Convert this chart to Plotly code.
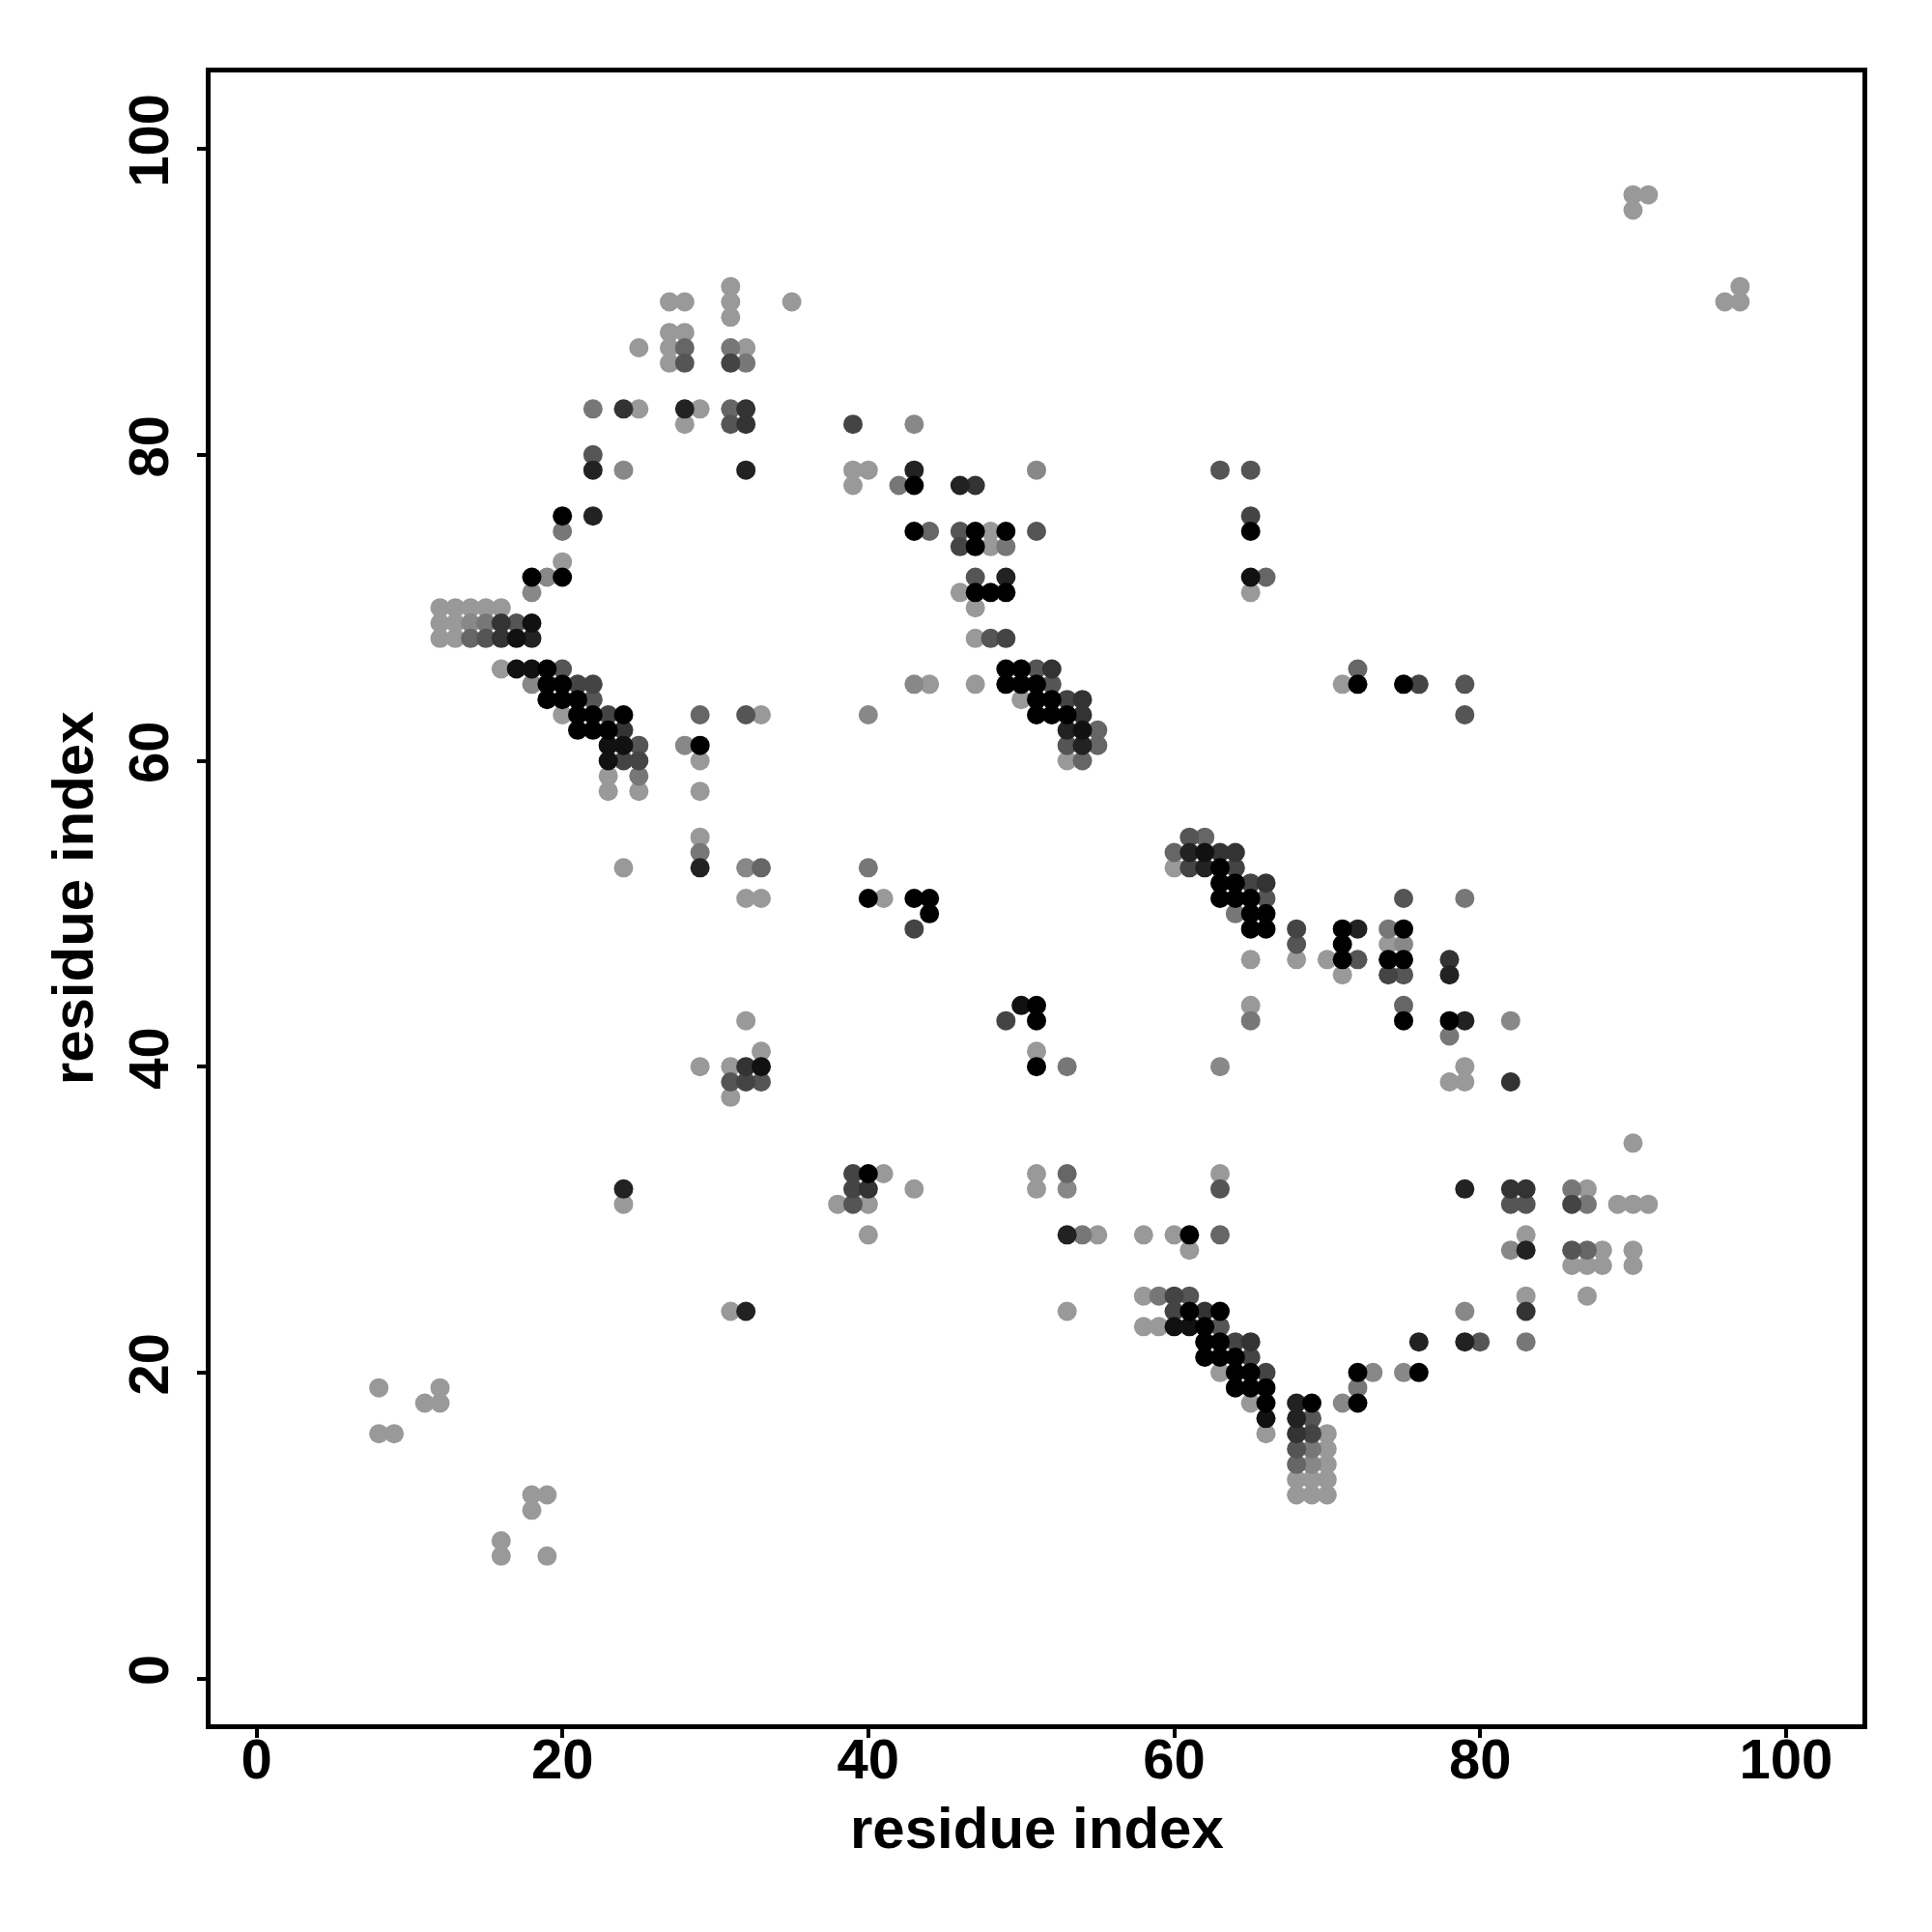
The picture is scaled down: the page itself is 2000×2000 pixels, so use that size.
import plotly.graph_objects as go

# contact map: residue i, residue j, intensity level (0 = faint ... 9 = strongest)
res_i = [
    31, 27, 28, 31, 35, 31, 27, 28, 25, 27, 28, 31, 32, 27, 28, 31, 32,
    22, 24, 25, 28, 29, 31, 32, 28, 31, 32, 22, 22, 24, 32, 20, 22, 20,
    20, 18, 19, 20, 18, 12, 13, 14, 15, 16,
    12, 13, 14, 15, 16, 17, 18, 12, 13, 14, 15, 16, 17, 18,
    16, 17, 18, 19, 20, 18, 19, 20, 21, 22, 19, 20, 21, 22,
    20, 21, 22, 23, 24, 29, 32, 33, 21, 22, 23, 24,
    23, 24, 25, 28, 29, 23, 24, 25, 29, 23, 25, 23, 25, 29,
    39, 43, 39, 40, 43, 51, 39, 42, 43, 46, 47,
    43, 44, 46, 47, 48, 49, 51, 46, 47, 48, 49, 47, 49, 46, 47, 48, 49, 47,
    47, 48, 49, 49, 50, 51, 52, 43, 44, 47, 49, 50, 51, 52,
    50, 51, 52, 53, 54, 40, 51, 52, 53, 54, 53, 54, 55, 53, 54, 55, 53, 54,
    63, 65, 65, 65, 65, 66, 65, 72, 71, 72, 75, 76, 79, 79,
    90, 91, 90, 97, 96, 97,
    24, 29, 29, 29, 32, 33, 32, 33, 40, 40, 41, 43, 44, 44, 43,
    50, 51, 49, 51, 33, 51, 32, 29, 31, 32, 33, 51, 53, 31, 32, 33, 31,
    61, 62, 60, 61, 62, 63, 64, 60, 61, 62, 63, 64, 63, 64, 65, 66,
    63, 64, 65, 66, 75, 79, 64, 65, 66, 65, 66, 68, 71, 72, 74, 75,
    68, 71, 74, 75, 65, 68, 70, 71, 72, 74, 75, 78, 71, 74, 75, 78,
    65, 75, 65, 75, 78, 79, 82, 78, 63, 79, 78, 79, 82,
    24, 24, 39, 40, 41, 39, 40, 43, 38, 39, 40, 40, 51, 53, 51, 53,
    53, 54, 55, 31, 32, 53,
    63, 63, 58, 60, 61, 63, 61, 58, 59, 60, 61, 60, 61, 62, 63,
    58, 59, 60, 61, 62, 63, 62, 63, 64, 65, 62, 63, 64, 65,
    63, 64, 65, 66, 72, 73, 64, 65, 66, 72, 65, 66, 68, 69, 71, 72,
    66, 68, 69, 66, 68, 69, 70, 68, 69, 70, 68, 69, 70, 68, 69, 70, 68, 69, 70,
    90, 79, 82, 83, 86, 87, 82, 83, 86, 87, 89, 90, 91, 83,
    82, 83, 86, 87, 88, 90, 86, 87, 88, 90, 83, 87, 79, 83,
    76, 79, 80, 83, 75, 76,
    8, 12, 11, 12, 8, 9, 18, 19, 18, 16, 16, 19,
]
res_j = [
    91, 90, 90, 90, 90, 89, 88, 88, 87, 87, 87, 87, 87, 86, 86, 86, 86,
    83, 83, 83, 83, 83, 83, 83, 82, 82, 82, 80, 79, 79, 79, 76, 76, 75,
    73, 72, 72, 72, 71, 70, 70, 70, 70, 70,
    69, 69, 69, 69, 69, 69, 69, 68, 68, 68, 68, 68, 68, 68,
    66, 66, 66, 66, 66, 65, 65, 65, 65, 65, 64, 64, 64, 64,
    63, 63, 63, 63, 63, 63, 63, 63, 62, 62, 62, 62,
    61, 61, 61, 61, 61, 60, 60, 60, 60, 59, 59, 58, 58, 58,
    82, 82, 79, 79, 79, 79, 78, 78, 78, 78, 78,
    75, 75, 75, 75, 75, 75, 75, 74, 74, 74, 74, 72, 72, 71, 71, 71, 71, 70,
    68, 68, 68, 66, 66, 66, 66, 65, 65, 65, 65, 65, 65, 65,
    64, 64, 64, 64, 64, 63, 63, 63, 63, 63, 62, 62, 62, 61, 61, 61, 60, 60,
    79, 79, 76, 75, 72, 72, 71, 66, 65, 65, 65, 65, 65, 63,
    97, 97, 96, 91, 90, 90,
    53, 55, 54, 53, 53, 53, 51, 51, 53, 51, 51, 51, 51, 50, 49,
    44, 44, 43, 43, 41, 41, 43, 40, 40, 40, 40, 40, 40, 39, 39, 39, 38,
    55, 55, 54, 54, 54, 54, 54, 53, 53, 53, 53, 53, 52, 52, 52, 52,
    51, 51, 51, 51, 51, 51, 50, 50, 50, 49, 49, 49, 49, 49, 49, 49,
    48, 48, 48, 48, 47, 47, 47, 47, 47, 47, 47, 47, 46, 46, 46, 46,
    44, 44, 43, 43, 43, 43, 43, 42, 40, 40, 39, 39, 39,
    32, 31, 33, 33, 33, 32, 32, 32, 31, 31, 31, 29, 33, 33, 32, 32,
    29, 29, 29, 24, 24, 24,
    33, 32, 29, 29, 29, 29, 28, 25, 25, 25, 25, 24, 24, 24, 24,
    23, 23, 23, 23, 23, 23, 22, 22, 22, 22, 21, 21, 21, 21,
    20, 20, 20, 20, 20, 20, 19, 19, 19, 19, 18, 18, 18, 18, 18, 18,
    17, 17, 17, 16, 16, 16, 16, 15, 15, 15, 14, 14, 14, 13, 13, 13, 12, 12, 12,
    35, 32, 32, 32, 32, 32, 31, 31, 31, 31, 31, 31, 31, 29,
    28, 28, 28, 28, 28, 28, 27, 27, 27, 27, 25, 25, 24, 24,
    22, 22, 22, 22, 20, 20,
    19, 19, 18, 18, 16, 16, 12, 12, 11, 9, 8, 8,
]
level = [
    0, 0, 0, 0, 0, 0, 0, 0, 0, 0, 3, 2, 0, 0, 4, 5, 2,
    2, 6, 0, 7, 0, 3, 6, 0, 4, 6, 4, 7, 1, 7, 9, 7, 2,
    0, 9, 1, 9, 1, 0, 0, 0, 0, 0,
    0, 0, 1, 2, 6, 4, 8, 0, 0, 3, 4, 6, 8, 7,
    0, 8, 8, 9, 4, 1, 9, 9, 5, 5, 9, 9, 9, 4,
    0, 9, 9, 5, 9, 3, 4, 0, 9, 9, 9, 6,
    8, 8, 4, 1, 9, 8, 5, 5, 0, 0, 2, 0, 0, 0,
    5, 1, 0, 0, 7, 1, 0, 2, 9, 7, 6,
    9, 3, 4, 9, 0, 9, 4, 5, 9, 0, 2, 4, 7, 0, 9, 9, 9, 0,
    0, 4, 5, 9, 9, 4, 6, 1, 0, 0, 9, 9, 9, 4,
    0, 9, 9, 5, 6, 1, 9, 9, 9, 6, 7, 8, 3, 4, 7, 3, 0, 3,
    4, 4, 5, 9, 8, 3, 0, 3, 0, 9, 9, 5, 4, 4,
    0, 0, 0, 0, 0, 0,
    0, 0, 2, 7, 1, 3, 0, 0, 2, 9, 0, 9, 9, 9, 5,
    8, 9, 5, 9, 0, 0, 0, 0, 0, 6, 8, 9, 2, 4, 5, 4, 0,
    4, 3, 3, 7, 8, 6, 6, 0, 5, 7, 9, 5, 9, 9, 5, 6,
    9, 9, 9, 4, 4, 2, 2, 9, 9, 9, 9, 5, 9, 7, 2, 9,
    4, 9, 0, 1, 0, 0, 0, 9, 4, 9, 9, 6, 0, 5, 4, 7,
    0, 3, 2, 9, 9, 7, 1, 2, 1, 0, 0, 0, 6,
    7, 0, 5, 9, 0, 5, 6, 0, 0, 4, 0, 0, 0, 3, 0, 1,
    7, 2, 0, 0, 7, 0,
    0, 4, 0, 0, 9, 3, 0, 0, 2, 5, 4, 5, 9, 6, 9,
    0, 0, 8, 8, 9, 4, 9, 9, 5, 6, 9, 9, 9, 5,
    0, 9, 9, 5, 9, 1, 9, 9, 9, 2, 0, 9, 7, 9, 1, 9,
    8, 7, 4, 0, 6, 5, 0, 4, 2, 0, 3, 1, 0, 0, 0, 0, 0, 0, 0,
    0, 7, 6, 6, 2, 0, 4, 4, 5, 2, 0, 0, 0, 0,
    1, 7, 4, 3, 0, 0, 0, 0, 0, 0, 0, 0, 1, 6,
    7, 7, 4, 2, 1, 9,
    0, 0, 0, 0, 0, 0, 0, 0, 0, 0, 0, 0,
]

tick_vals = [0, 20, 40, 60, 80, 100]
axis_label = "residue index"

# draw faint contacts first so that strong ones sit on top
order = sorted(range(len(level)), key=lambda k: level[k])
xs = [res_i[k] for k in order]
ys = [res_j[k] for k in order]
cs = [level[k] / 9 for k in order]

fig = go.Figure(go.Scatter(
    x=xs, y=ys, mode="markers",
    marker=dict(size=20, color=cs, cmin=0, cmax=1,
                colorscale=[[0, "rgb(153,153,153)"], [1, "rgb(0,0,0)"]],
                line=dict(width=0)),
    hoverinfo="x+y",
))

family = "Liberation Sans, Arial, Helvetica, sans-serif"
font = dict(family=family, size=58, color="black", weight="bold")
axis_common = dict(
    range=[-3, 105], tickvals=tick_vals, ticks="outside", ticklen=9,
    tickwidth=4, tickcolor="black", showline=True, mirror=True,
    linewidth=5, linecolor="black", showgrid=False, zeroline=False,
    tickfont=font,
)
fig.update_layout(
    width=2000, height=2000,
    margin=dict(l=210, r=80, t=67, b=223, pad=0),
    plot_bgcolor="white", paper_bgcolor="white",
    showlegend=False,
    xaxis=dict(**axis_common, ticklabelstandoff=-28),
    yaxis=dict(**axis_common, tickangle=-90, ticklabelstandoff=7),
    annotations=[
        dict(text=axis_label, xref="paper", yref="paper", x=0.5, y=-0.063,
             xanchor="center", yanchor="middle", showarrow=False,
             font=dict(family=family, size=60, color="black", weight="bold")),
        dict(text=axis_label, xref="paper", yref="paper", x=-0.0835, y=0.5,
             xanchor="center", yanchor="middle", showarrow=False, textangle=-90,
             font=dict(family=family, size=60, color="black", weight="bold")),
    ],
)
fig.write_html("out.html")
